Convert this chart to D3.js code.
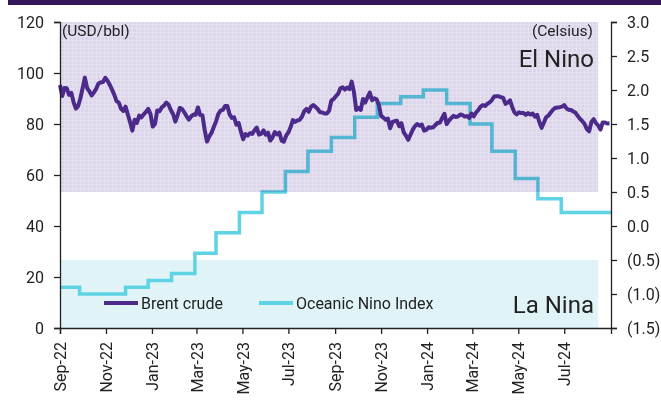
<!DOCTYPE html>
<html>
<head>
<meta charset="utf-8">
<script src="https://cdn.jsdelivr.net/npm/d3@7"></script>
<style>
  body { margin: 0; background: #fff; }
  svg text { font-family: Roboto, "Noto Sans", sans-serif; fill: #222; }
</style>
</head>
<body>
<div id="chart"></div>
<script>
// Brent crude, USD/bbl, one reading every 3 days from 1 Sep 2022
const brentStart = '2022-09-01'
const brentStepDays = 3
const brentValues = [
  95.3, 91.0, 94.1, 94.0, 91.4, 92.2, 88.6, 86.0, 87.0, 90.0,
  94.0, 98.2, 94.1, 92.8, 91.2, 92.4, 93.8, 95.9, 96.3, 96.5,
  98.1, 97.0, 95.4, 93.5, 91.5, 89.0, 88.4, 86.0, 85.1, 86.8,
  83.7, 80.7, 77.4, 81.7, 80.4, 83.3, 82.6, 83.8, 84.7, 85.9,
  84.0, 79.0, 80.0, 85.3, 85.0, 86.5, 87.2, 88.4, 87.6, 85.5,
  83.9, 80.9, 83.4, 86.3, 85.9, 84.5, 83.0, 81.7, 83.0, 83.7,
  83.6, 86.5, 83.5, 83.4, 77.6, 73.1, 75.1, 76.5, 78.8, 81.0,
  83.9, 85.2, 85.5, 87.1, 87.1, 83.8, 82.4, 82.6, 79.7, 80.4,
  77.0, 74.0, 76.0, 75.5, 76.4, 76.1, 77.5, 78.6, 75.8, 76.2,
  77.5, 75.8, 76.6, 73.5, 74.8, 76.8, 75.9, 76.6, 73.5, 73.1,
  75.4, 76.7, 78.8, 81.5, 80.8, 81.4, 81.6, 82.9, 85.0, 85.9,
  84.8, 86.8, 87.4, 86.7, 85.8, 84.6, 84.5, 84.1, 84.1, 85.2,
  89.2, 89.8, 90.9, 91.9, 94.0, 94.4, 93.5, 94.3, 93.7, 96.6,
  92.5, 85.5, 86.3, 85.5, 89.8, 88.4, 90.5, 92.3, 89.3, 90.1,
  89.7, 87.5, 83.2, 82.5, 81.7, 82.1, 78.3, 80.8, 81.1, 81.3,
  79.1, 80.3, 76.7, 75.4, 73.8, 75.8, 77.8, 79.2, 80.0, 79.3,
  79.8, 77.4, 77.7, 78.7, 78.5, 78.7, 79.6, 80.5, 80.5, 82.4,
  84.0, 80.0, 81.3, 82.3, 83.2, 82.7, 83.0, 83.7, 83.5, 82.9,
  83.1, 82.4, 84.1, 83.0, 84.5, 85.5, 86.8, 87.4, 87.1, 87.9,
  88.5, 89.4, 90.8, 90.9, 90.9, 90.5, 90.2, 87.9, 88.4, 89.3,
  86.6, 84.5, 83.8, 84.6, 84.3, 84.3, 83.6, 84.3, 83.7, 84.1,
  82.9, 83.6, 80.7, 78.5, 80.6, 82.7, 83.3, 84.5, 85.6, 86.3,
  86.5, 86.6, 86.8, 87.4, 86.1, 85.6, 85.5, 84.9, 84.4, 83.1,
  82.0, 81.1, 80.0, 78.0, 77.1, 80.8, 81.9, 80.4, 79.4, 77.8,
  80.6, 80.6, 80.2, 80.3
]

// Oceanic Nino Index (Celsius), value holds from each date to the next
const oniDates = [
  '2022-09-01', '2022-09-27', '2022-10-27', '2022-11-27', '2022-12-27',
  '2023-01-27', '2023-02-27', '2023-03-27', '2023-04-27', '2023-05-27',
  '2023-06-27', '2023-07-27', '2023-08-27', '2023-09-27', '2023-10-27',
  '2023-11-27', '2023-12-27', '2024-01-27', '2024-02-27', '2024-03-27',
  '2024-04-27', '2024-05-27', '2024-06-27', '2024-07-27', '2024-09-01'
]
const oniValues = [
  -0.9, -1.0, -1.0, -0.9, -0.8,
  -0.7, -0.4, -0.1, 0.2, 0.5,
  0.8, 1.1, 1.3, 1.6, 1.8,
  1.9, 2.0, 1.8, 1.5, 1.1,
  0.7, 0.4, 0.2, 0.2, 0.2
]

const xDomain = ['2022-09-01', '2024-09-01']
const shadeEnd = '2024-08-15'
const elNinoBand = [0.5, 3.0]
const laNinaBand = [-1.5, -0.5]
const leftTicks = [0, 20, 40, 60, 80, 100, 120]
const rightTicks = [-1.5, -1.0, -0.5, 0.0, 0.5, 1.0, 1.5, 2.0, 2.5, 3.0]

const parse = d3.timeParse('%Y-%m-%d')
const width = 661
const height = 414
const margin = {top: 22, right: 50, bottom: 86, left: 60}

const svg = d3.select('#chart')
  .append('svg')
  .attr('width', width)
  .attr('height', height)

// fine texture used by the El Nino band
const pat = svg.append('defs').append('pattern')
  .attr('id', 'elnino')
  .attr('width', 4).attr('height', 4)
  .attr('patternUnits', 'userSpaceOnUse')
pat.append('rect').attr('width', 4).attr('height', 4).attr('fill', '#ddd6ea')
pat.append('rect').attr('width', 4).attr('height', 1).attr('fill', '#e6e1f0')
pat.append('rect').attr('width', 1).attr('height', 4).attr('fill', '#e6e1f0')

// dark strip along the top
svg.append('rect')
  .attr('x', 8).attr('y', 0)
  .attr('width', width - 8).attr('height', 5)
  .attr('fill', '#35185b')

const x = d3.scaleTime()
  .domain(xDomain.map(parse))
  .range([margin.left, width - margin.right])
const yL = d3.scaleLinear().domain([0, 120]).range([height - margin.bottom, margin.top])
const yR = d3.scaleLinear().domain([-1.5, 3]).range([height - margin.bottom, margin.top])

const t0 = parse(xDomain[0])
const t1 = parse(shadeEnd)

// La Nina band
svg.append('rect')
  .attr('x', x(t0)).attr('width', x(t1) - x(t0))
  .attr('y', yR(laNinaBand[1])).attr('height', yR(laNinaBand[0]) - yR(laNinaBand[1]))
  .attr('fill', '#e0f4f8')

// ONI step line
const oni = oniDates.map((d, i) => ({date: parse(d), value: oniValues[i]}))
svg.append('path')
  .datum(oni)
  .attr('fill', 'none')
  .attr('stroke', '#5ed3e3')
  .attr('stroke-width', 3.5)
  .attr('d', d3.line().curve(d3.curveStepAfter).x(d => x(d.date)).y(d => yR(d.value)))

// El Nino band, multiplied over the ONI line
svg.append('rect')
  .attr('x', x(t0)).attr('width', x(t1) - x(t0))
  .attr('y', yR(elNinoBand[1])).attr('height', yR(elNinoBand[0]) - yR(elNinoBand[1]))
  .attr('fill', 'url(#elnino)')
  .style('mix-blend-mode', 'multiply')

// Brent line
const brent = brentValues.map((v, i) => ({
  date: d3.timeDay.offset(parse(brentStart), i * brentStepDays),
  value: v
}))
svg.append('path')
  .datum(brent)
  .attr('fill', 'none')
  .attr('stroke', '#4b2a8b')
  .attr('stroke-width', 4)
  .attr('stroke-linejoin', 'round')
  .attr('d', d3.line().x(d => x(d.date)).y(d => yL(d.value)))

// axes
const bottom = svg.append('g')
  .attr('transform', 'translate(0,' + (height - margin.bottom) + ')')
  .call(d3.axisBottom(x)
    .tickValues(d3.timeMonth.every(2).range(parse('2022-09-01'), parse('2024-08-02')))
    .tickFormat(d3.timeFormat('%b-%y'))
    .tickSizeOuter(0)
    .tickSize(6))
bottom.selectAll('text')
  .attr('transform', 'rotate(-90)')
  .attr('text-anchor', 'end')
  .attr('x', -14)
  .attr('y', 0)
  .attr('dy', '0.35em')

svg.append('g')
  .attr('transform', 'translate(' + margin.left + ',0)')
  .call(d3.axisLeft(yL).tickValues(leftTicks).tickSizeOuter(0).tickSize(6).tickPadding(10))

const fmtR = v => v < 0 ? '(' + Math.abs(v).toFixed(1) + ')' : v.toFixed(1)
svg.append('g')
  .attr('transform', 'translate(' + (width - margin.right) + ',0)')
  .call(d3.axisRight(yR).tickValues(rightTicks).tickFormat(fmtR).tickSizeOuter(0).tickSize(6).tickPadding(10))

svg.selectAll('.tick text').attr('font-size', 16).style('fill', '#222')
svg.selectAll('.domain, .tick line').attr('stroke', '#222').attr('stroke-width', 1.3)
svg.selectAll('g text').attr('font-family', 'Roboto, sans-serif')

// unit labels
svg.append('text').attr('x', 62).attr('y', 36).attr('font-size', 15.5).text('(USD/bbl)')
svg.append('text').attr('x', 593).attr('y', 36).attr('font-size', 15.5)
  .attr('text-anchor', 'end').text('(Celsius)')

// region labels
svg.append('text').attr('x', 594).attr('y', 67).attr('font-size', 24)
  .attr('text-anchor', 'end').text('El Nino')
svg.append('text').attr('x', 594).attr('y', 313).attr('font-size', 24)
  .attr('text-anchor', 'end').text('La Nina')

// legend
const legend = [
  {name: 'Brent crude', color: '#4b2a8b', x: 104},
  {name: 'Oceanic Nino Index', color: '#5ed3e3', x: 259}
]
const lg = svg.append('g').selectAll('g').data(legend).enter().append('g')
  .attr('transform', d => 'translate(' + d.x + ',303)')
lg.append('line').attr('x1', 0).attr('x2', 34).attr('y1', 0).attr('y2', 0)
  .attr('stroke', d => d.color).attr('stroke-width', 4)
lg.append('text').attr('x', 37).attr('y', 5.5).attr('font-size', 16).text(d => d.name)
</script>
</body>
</html>
